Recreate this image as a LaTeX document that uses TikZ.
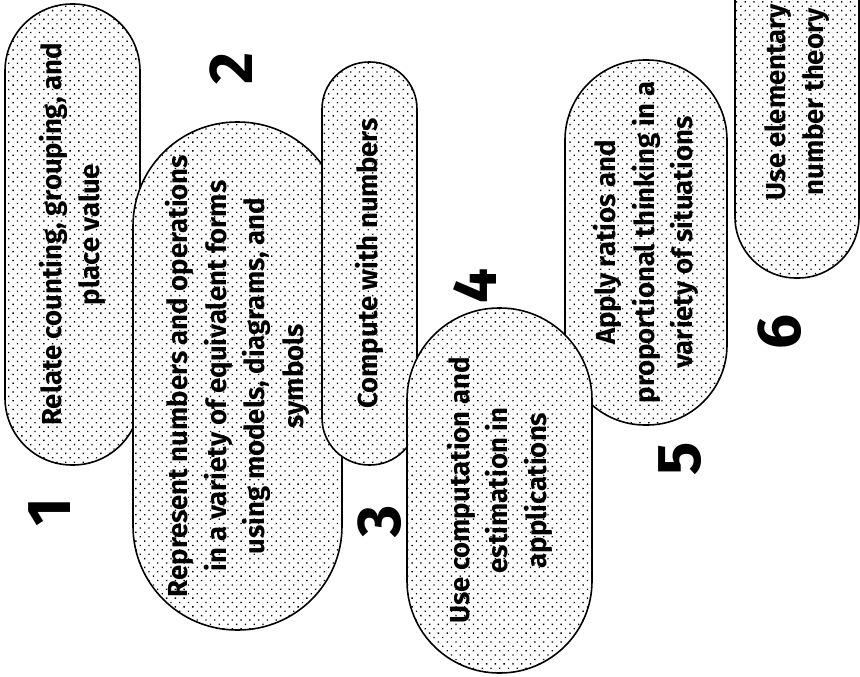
\documentclass[tikz,border=0pt]{standalone}
\usepackage{fontspec}
\setmainfont{Fira Sans}
\usetikzlibrary{patterns.meta}

\tikzset{
  blob/.style={draw, line width=1.6pt, preaction={fill=white},
    pattern={Dots[distance=6.2pt, radius=0.95pt, angle=45]},
    rotate=90, align=center, inner sep=0pt,
    font=\fontsize{27.5}{38.5}\selectfont\bfseries},
  digit/.style={rotate=90, inner sep=0pt, font=\fontsize{62}{62}\selectfont\bfseries}
}

\begin{document}
\begin{tikzpicture}[x=1pt, y=-1pt]
			\useasboundingbox (0,0) rectangle (860,677);
			\clip (0,0) rectangle (860,677);
			
			\node[blob, minimum width=461pt, minimum height=135pt, rounded corners=67pt] (count) at (72.5,234.5)
				{Relate counting, grouping, and\\place value};
			\node[blob, minimum width=508pt, minimum height=209pt, rounded corners=104pt] (repr) at (237.5,376)
				{Represent numbers and operations\\in a variety of equivalent forms\\using models, diagrams, and\\symbols};
			\node[blob, minimum width=403pt, minimum height=95pt, rounded corners=47pt] (comp) at (369.5,263.5)
				{Compute with numbers};
			\node[blob, minimum width=365pt, minimum height=162pt, rounded corners=80pt] (ratio) at (646,242.5)
				{Apply ratios and\\proportional thinking in a\\variety of situations};
			\node[blob, minimum width=365pt, minimum height=185pt, rounded corners=92pt] (estim) at (499.5,490.5)
				{Use computation and\\estimation in\\applications};
			\node[blob, minimum width=352pt, minimum height=124pt, rounded corners=61pt] (theory) at (797,102)
				{Use elementary\\number theory};
			
			\node[digit] (n1) at (50,512) {1};
			\node[digit] (n2) at (231,68) {2};
			\node[digit] (n3) at (380,521) {3};
			\node[digit] (n4) at (475,286) {4};
			\node[digit] (n5) at (680,459) {5};
			\node[digit] (n6) at (780,332) {6};
		\end{tikzpicture}
\end{document}
